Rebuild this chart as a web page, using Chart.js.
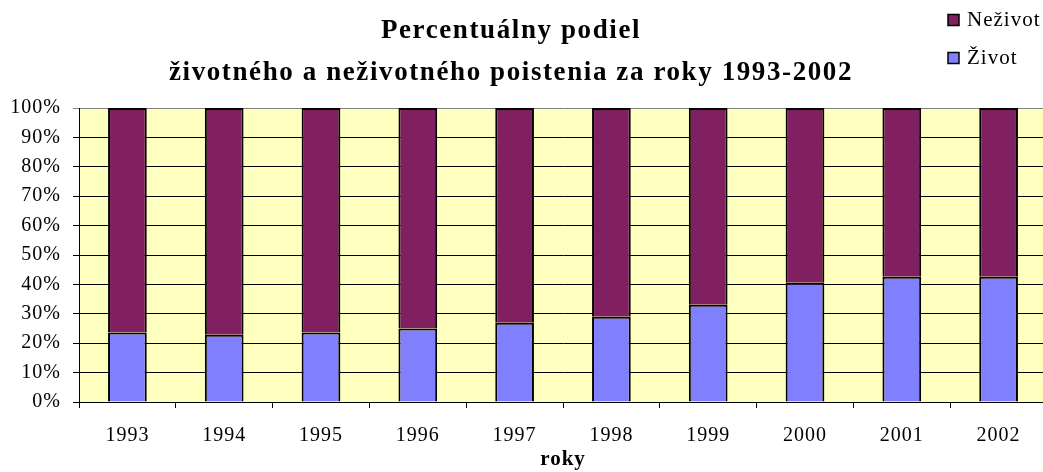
<!DOCTYPE html>
<html>
<head>
<meta charset="utf-8">
<script src="https://cdn.jsdelivr.net/npm/chart.js@4/dist/chart.umd.min.js"></script>
<style>
    html, body { margin: 0; padding: 0; overflow: hidden; background: #fff; }
    #wrap { width: 1043px; height: 472px; overflow: hidden; }
</style>
</head>
<body>
<div id="wrap"><canvas id="podielChart" width="1050" height="472"></canvas></div>
<script>
const roky = ["1993", "1994", "1995", "1996", "1997", "1998", "1999", "2000", "2001", "2002"];
const zivot = [23.6, 22.9, 23.6, 25.0, 27.0, 29.0, 33.1, 40.6, 42.6, 42.6];
const nezivot = [76.4, 77.1, 76.4, 75.0, 73.0, 71.0, 66.9, 59.4, 57.4, 57.4];
const yTickLabels = ["0%", "10%", "20%", "30%", "40%", "50%", "60%", "70%", "80%", "90%", "100%"];

const serif = "'Liberation Serif', 'Times New Roman', serif";

// yellow plot background + the slightly wide text of the original
const plotBackground = {
    id: "plotBackground",
    beforeDraw(chart) {
        const { ctx, chartArea } = chart;
        ctx.letterSpacing = "1px";
        ctx.save();
        ctx.fillStyle = "#FFFFC0";
        ctx.fillRect(chartArea.left, chartArea.top, chartArea.right - chartArea.left, chartArea.bottom - chartArea.top);
        ctx.restore();
    }
};

// title is centred a bit left of the canvas centre in the original
const titleShift = {
    id: "titleShift",
    afterLayout(chart) {
        const t = chart.titleBlock;
        if (!t) return;
        t.left = 0;
        t.right = 1022;
        if (!t._wide) {
            const draw = t.draw.bind(t);
            t.draw = function () {
                chart.ctx.save();
                chart.ctx.letterSpacing = "1.6px";
                draw();
                chart.ctx.restore();
            };
            t._wide = true;
        }
    }
};

// legend in the top right corner, stacked top to bottom
const cornerLegend = {
    id: "cornerLegend",
    afterDraw(chart) {
        const ctx = chart.ctx;
        const items = chart.data.datasets.slice().reverse();
        ctx.save();
        ctx.font = "21px " + serif;
        ctx.textBaseline = "middle";
        ctx.textAlign = "left";
        items.forEach(function (ds, i) {
            const y = 20 + i * 38;
            ctx.fillStyle = ds.backgroundColor;
            ctx.fillRect(948, y - 5.5, 11, 11);
            ctx.strokeStyle = "#000";
            ctx.lineWidth = 1.5;
            ctx.strokeRect(948, y - 5.5, 11, 11);
            ctx.fillStyle = "#000";
            ctx.fillText(ds.label, 967, y);
        });
        ctx.restore();
    }
};

const ctx = document.getElementById("podielChart").getContext("2d");
new Chart(ctx, {
    type: "bar",
    data: {
        labels: roky,
        datasets: [{
            label: "Život",
            data: zivot,
            backgroundColor: "#8080FF",
            borderColor: "#000",
            borderWidth: 2,
            barPercentage: 0.4,
            categoryPercentage: 1
        }, {
            label: "Neživot",
            data: nezivot,
            backgroundColor: "#802060",
            borderColor: "#000",
            borderWidth: 2,
            barPercentage: 0.4,
            categoryPercentage: 1
        }]
    },
    options: {
        responsive: false,
        animation: false,
        events: [],
        layout: { padding: { top: 0, right: 3, bottom: 0, left: 0 } },
        plugins: {
            legend: { display: false },
            tooltip: { enabled: false },
            title: {
                display: true,
                text: ["Percentuálny podiel", "životného a neživotného poistenia za roky 1993-2002"],
                color: "#000",
                font: { family: serif, size: 27, weight: "bold", lineHeight: 1.556 },
                padding: { top: 10, bottom: 14 }
            }
        },
        scales: {
            x: {
                stacked: true,
                afterFit(scale) { scale.height = 70; },
                grid: { drawOnChartArea: false, drawTicks: true, tickLength: 6, color: "#000", offset: true },
                border: { display: true, color: "#000", width: 1 },
                ticks: { color: "#000", font: { family: serif, size: 20 }, padding: 16, maxRotation: 0 },
                title: {
                    display: true,
                    text: "roky",
                    color: "#000",
                    font: { family: serif, size: 21, weight: "bold" },
                    padding: { top: 0, bottom: 0 }
                }
            },
            y: {
                stacked: true,
                min: 0,
                max: 100,
                afterFit(scale) { scale.width = 79; },
                grid: {
                    color: function (c) { return c.tick && c.tick.value === 100 ? "#808080" : "#000"; },
                    lineWidth: 1,
                    tickLength: 6
                },
                border: { display: true, color: "#000", width: 1 },
                ticks: {
                    stepSize: 10,
                    color: "#000",
                    padding: 12,
                    font: { family: serif, size: 20 },
                    callback: function (value, index) { return yTickLabels[index]; }
                }
            }
        }
    },
    plugins: [plotBackground, titleShift, cornerLegend]
});
</script>
</body>
</html>
